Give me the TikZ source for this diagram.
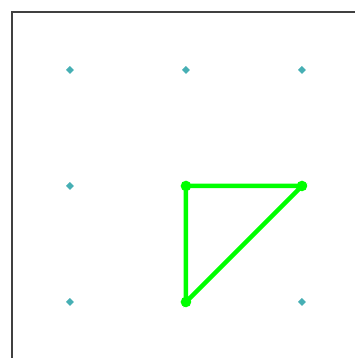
\documentclass[tikz,border=0pt]{standalone}
\usepackage{tikz}
\usetikzlibrary{positioning,shapes.geometric}

\definecolor{gridteal}{RGB}{70,175,180}
\definecolor{framegray}{RGB}{64,64,64}
\definecolor{trigreen}{RGB}{0,255,0}

\begin{document}
\begin{tikzpicture}[
    framebox/.style={draw=framegray, line width=0.5pt},
    gridpt/.style={diamond, fill=gridteal, inner sep=0pt, minimum size=2.1pt},
    triedge/.style={draw=trigreen, line width=1.1pt},
    trivertex/.style={circle, fill=trigreen, inner sep=0pt, minimum size=2.6pt}
]
\useasboundingbox (-0.603,-0.483) rectangle (2.457,2.603);
\fill[white] (-0.603,-0.483) rectangle (2.457,2.603);

% frame, partly outside the view
\draw[framebox] (-0.5,-0.5) rectangle (2.5,2.5);

% grid points
\foreach \x in {0,1,2}
  \foreach \y in {0,1,2}
    \node[gridpt] (g\x\y) at (\x,\y) {};

% triangle
\coordinate (va) at (1,1);
\coordinate (vb) at (2,1);
\coordinate (vc) at (1,0);
\draw[triedge] (va) -- (vb) -- (vc) -- cycle;
\foreach \v in {va,vb,vc}
  \node[trivertex] at (\v) {};

\end{tikzpicture}
\end{document}
